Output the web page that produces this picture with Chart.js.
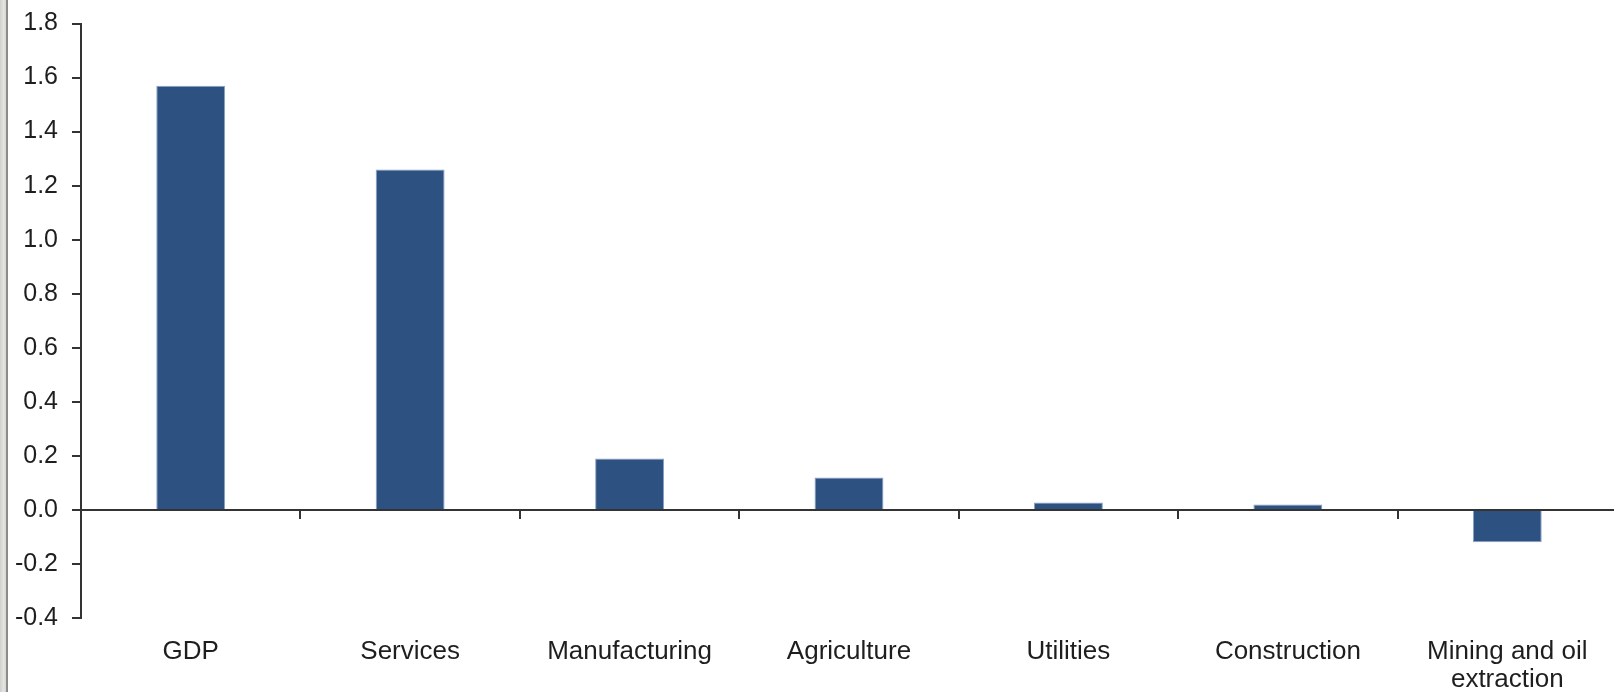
<!DOCTYPE html>
<html>
<head>
<meta charset="utf-8">
<script src="https://cdn.jsdelivr.net/npm/chart.js@4/dist/chart.umd.min.js"></script>
<style>
  html, body { margin: 0; padding: 0; background: #fff; overflow: hidden; }
  #wrap { position: relative; width: 1614px; height: 692px; overflow: hidden; }
  #frame {
    position: absolute; left: 0; top: 0; width: 6px; height: 692px;
    background: linear-gradient(90deg, #cfcfcb, #e4e4e0 60%, #d6d6d2);
    border-right: 2px solid #8c8c8c;
  }
</style>
</head>
<body>
<div id="wrap">
  <canvas id="mycanvas" width="1617" height="692"></canvas>
  <div id="frame"></div>
</div>
<script>
// contribution to growth by sector, percentage points
var sectors = ['GDP', 'Services', 'Manufacturing', 'Agriculture', 'Utilities', 'Construction', ['Mining and oil', 'extraction']];
var contrib = [1.57, 1.26, 0.19, 0.12, 0.027, 0.02, -0.12];
var yTicks = [-0.4, -0.2, 0.0, 0.2, 0.4, 0.6, 0.8, 1.0, 1.2, 1.4, 1.6, 1.8];

var axisCol = '#333333';
var textCol = '#1e1e1e';
var fontName = "'Liberation Sans', Arial, sans-serif";

var ctx = document.getElementById('mycanvas');

var myChart = new Chart(ctx, {
  type: 'bar',
  data: {
    labels: sectors,
    datasets: [{
      data: contrib,
      backgroundColor: '#2d5181',
      borderColor: '#8aa2c6',
      borderWidth: 1,
      barPercentage: 0.314,
      categoryPercentage: 1.0
    }]
  },
  options: {
    responsive: false,
    animation: false,
    layout: {
      padding: { top: 23.5, left: 0, right: 0, bottom: 0 }
    },
    plugins: {
      legend: { display: false },
      tooltip: { enabled: false }
    },
    scales: {
      y: {
        min: yTicks[0],
        max: yTicks[yTicks.length - 1],
        afterBuildTicks: function(scale) {
          scale.ticks = yTicks.map(function(v) { return { value: v }; });
        },
        afterFit: function(scale) {
          scale.width = 81;
          scale.paddingTop = 0;
          scale.paddingBottom = 0;
        },
        border: { display: true, color: axisCol, width: 2 },
        grid: { drawOnChartArea: false, drawTicks: true, tickLength: 9, color: axisCol, lineWidth: 2 },
        ticks: {
          padding: 14,
          color: textCol,
          font: { family: fontName, size: 25 },
          callback: function(v) { return Number(v).toFixed(1); }
        }
      },
      // labels along the bottom of the plot
      x: {
        position: 'bottom',
        afterFit: function(scale) { scale.height = 74; },
        border: { display: false },
        grid: { display: false, drawTicks: false },
        ticks: {
          padding: 20,
          maxRotation: 0,
          autoSkip: false,
          color: textCol,
          font: { family: fontName, size: 26, lineHeight: 1.08 }
        }
      },
      // axis line and tick marks at zero
      x0: {
        type: 'category',
        labels: sectors,
        position: { y: 0 },
        offset: true,
        border: { display: true, color: axisCol, width: 2 },
        grid: { offset: true, drawOnChartArea: false, drawTicks: true, tickLength: 8, color: axisCol, lineWidth: 2 },
        ticks: { display: false }
      }
    }
  }
});
</script>
</body>
</html>
